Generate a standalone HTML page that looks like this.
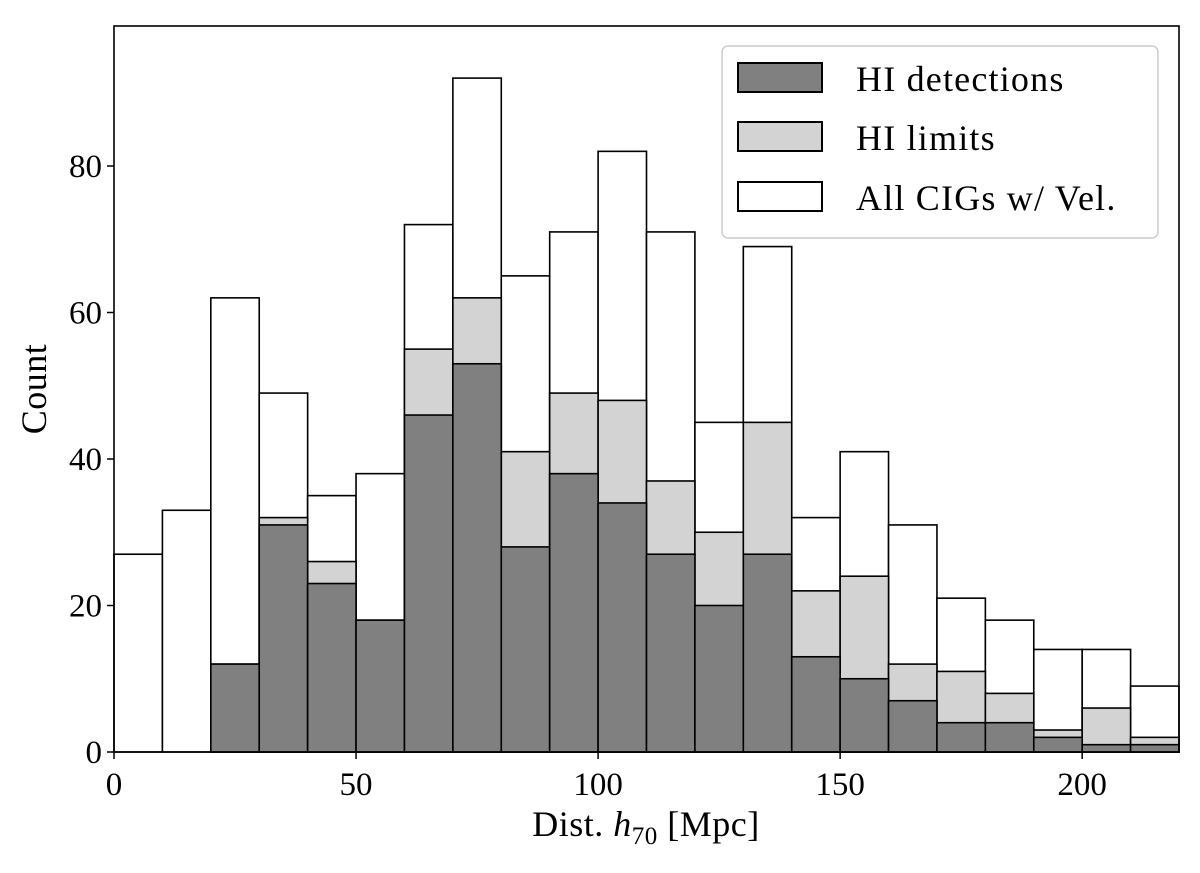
<!DOCTYPE html>
<html><head><meta charset="utf-8"><style>
body{margin:0;background:#fff;}
svg text{font-family:"Liberation Serif",serif;fill:#000;}
</style></head><body>
<svg id="chart" width="1200" height="868" viewBox="0 0 1200 868" xmlns="http://www.w3.org/2000/svg">
<g id="bars"></g>
<rect x="114" y="26" width="1065" height="726" fill="none" stroke="#000" stroke-width="1.6"/>
<g id="xticks"></g>
<g id="yticks"></g>
<text x="646" y="836" font-size="36" text-anchor="middle" letter-spacing="0.5">Dist. <tspan font-style="italic">h</tspan><tspan font-size="25" dy="8">70</tspan><tspan dy="-8"> [Mpc]</tspan></text>
<text transform="translate(46,389) rotate(-90)" font-size="36" text-anchor="middle" letter-spacing="0.5">Count</text>
<g>
<rect x="722" y="46" width="436" height="192" rx="6" fill="#fff" fill-opacity="0.8" stroke="#ccc" stroke-width="1.5"/>
<g><rect x="738" y="63" width="84" height="29" fill="#808080" stroke="#000" stroke-width="2"/><text x="856" y="91" font-size="36" letter-spacing="1.2">HI detections</text></g>
<g><rect x="738" y="122" width="84" height="29" fill="#d3d3d3" stroke="#000" stroke-width="2"/><text x="856" y="150" font-size="36" letter-spacing="1.2">HI limits</text></g>
<g><rect x="738" y="182" width="84" height="29" fill="#fff" stroke="#000" stroke-width="2"/><text x="856" y="210" font-size="36" letter-spacing="1.2">All CIGs w/ Vel.</text></g>
</g>
</svg>
<script>
const binStarts=[0,10,20,30,40,50,60,70,80,90,100,110,120,130,140,150,160,170,180,190,200,210];
const allCounts=[27,33,62,49,35,38,72,92,65,71,82,71,45,69,32,41,31,21,18,14,14,9];
const limitsTop=[0,0,12,32,26,18,55,62,41,49,48,37,30,45,22,24,12,11,8,3,6,2];
const detCounts=[0,0,12,31,23,18,46,53,28,38,34,27,20,27,13,10,7,4,4,2,1,1];
const xTicks=[0,50,100,150,200];
const yTicks=[0,20,40,60,80];
const binWidth=10;
const X=v=>114+v*(1065/220);
const Y=v=>752-v*7.325;
const NS="http://www.w3.org/2000/svg";
const g=document.getElementById('bars');
function drawSeries(vals,fill,name){
  vals.forEach((v,i)=>{
    if(v<=0)return;
    const r=document.createElementNS(NS,'rect');
    r.setAttribute('x',X(binStarts[i]));r.setAttribute('width',X(binStarts[i]+binWidth)-X(binStarts[i]));
    r.setAttribute('y',Y(v));r.setAttribute('height',Y(0)-Y(v));
    r.setAttribute('fill',fill);r.setAttribute('stroke','#000');r.setAttribute('stroke-width','1.6');
    
    
    g.appendChild(r);
  });
}
drawSeries(allCounts,'#fff','all');
drawSeries(limitsTop,'#d3d3d3','limits');
drawSeries(detCounts,'#808080','detections');
const xg=document.getElementById('xticks');
xTicks.forEach(t=>{
  const l=document.createElementNS(NS,'line');
  l.setAttribute('x1',X(t));l.setAttribute('x2',X(t));l.setAttribute('y1',752);l.setAttribute('y2',759);l.setAttribute('stroke','#000');l.setAttribute('stroke-width','1.5');
  
  
  xg.appendChild(l);
  const s=document.createElementNS(NS,'text');
  s.setAttribute('x',X(t));s.setAttribute('y',795);s.setAttribute('font-size','33');s.setAttribute('text-anchor','middle');s.textContent=t;
  
  
  xg.appendChild(s);
});
const yg=document.getElementById('yticks');
yTicks.forEach(t=>{
  const l=document.createElementNS(NS,'line');
  l.setAttribute('x1',107);l.setAttribute('x2',114);l.setAttribute('y1',Y(t));l.setAttribute('y2',Y(t));l.setAttribute('stroke','#000');l.setAttribute('stroke-width','1.5');
  
  
  yg.appendChild(l);
  const s=document.createElementNS(NS,'text');
  s.setAttribute('x',102);s.setAttribute('y',Y(t)+11);s.setAttribute('font-size','33');s.setAttribute('text-anchor','end');s.textContent=t;
  
  
  yg.appendChild(s);
});
</script>
</body></html>
